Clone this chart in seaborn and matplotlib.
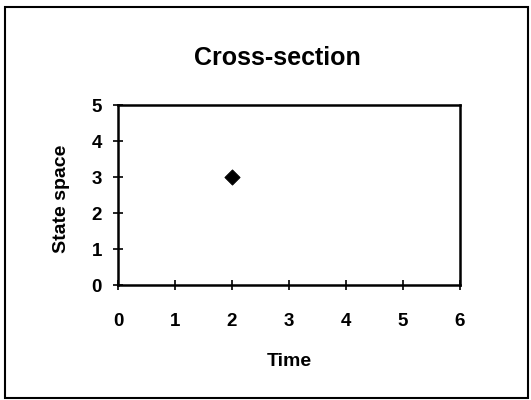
import matplotlib.pyplot as plt
import seaborn as sns
import pandas as pd
from matplotlib.patches import Rectangle

# data
time = [2]
state = [3]
x_ticks = [0, 1, 2, 3, 4, 5, 6]
y_ticks = [0, 1, 2, 3, 4, 5]

sns.set_style('white')
plt.rcParams['font.family'] = ['Liberation Sans', 'DejaVu Sans']
plt.rcParams['text.color'] = 'black'
plt.rcParams['axes.labelcolor'] = 'black'

fig = plt.figure(figsize=(5.31, 4.0), dpi=100)
ax = fig.add_axes([118 / 531, 1 - 285 / 400, (460 - 118) / 531, (285 - 105) / 400])

df = pd.DataFrame({'Time': time, 'State space': state})
sns.scatterplot(data=df, x='Time', y='State space', marker='D', s=60,
                color='black', edgecolor='black', ax=ax, zorder=5)

ax.set_xlim(0, 6)
ax.set_ylim(0, 5)
ax.set_xticks(x_ticks)
ax.set_yticks(y_ticks)
ax.tick_params(bottom=True, left=True, top=False, right=False,
               direction='inout', length=7, width=1.2, colors='black',
               labelsize=13.5)
ax.tick_params(axis='x', pad=17)
ax.tick_params(axis='y', pad=8)
for label in ax.get_xticklabels() + ax.get_yticklabels():
    label.set_fontweight('bold')
for sp in ax.spines.values():
    sp.set_color('black')
    sp.set_linewidth(1.8)
    sp.set_visible(True)

ax.set_xlabel('Time', fontweight='bold', fontsize=14, color='black')
ax.set_ylabel('State space', fontweight='bold', fontsize=14, color='black')
ax.xaxis.set_label_coords(0.5, -(362 - 285) / 180, transform=ax.transAxes)
ax.yaxis.set_label_coords(-(118 - 61) / 342, 0.48, transform=ax.transAxes)
ax.xaxis.label.set_va('center')
ax.yaxis.label.set_va('center')

fig.text(277 / 531, 1 - 58 / 400, 'Cross-section', ha='center', va='center',
         fontsize=18, fontweight='bold', color='black')

# outer chart border
fig.patches.append(Rectangle((5 / 531, 2 / 400), 523 / 531, 391 / 400,
                             transform=fig.transFigure, fill=False,
                             edgecolor='black', linewidth=1.5))

plt.savefig('out.png', dpi=100)
